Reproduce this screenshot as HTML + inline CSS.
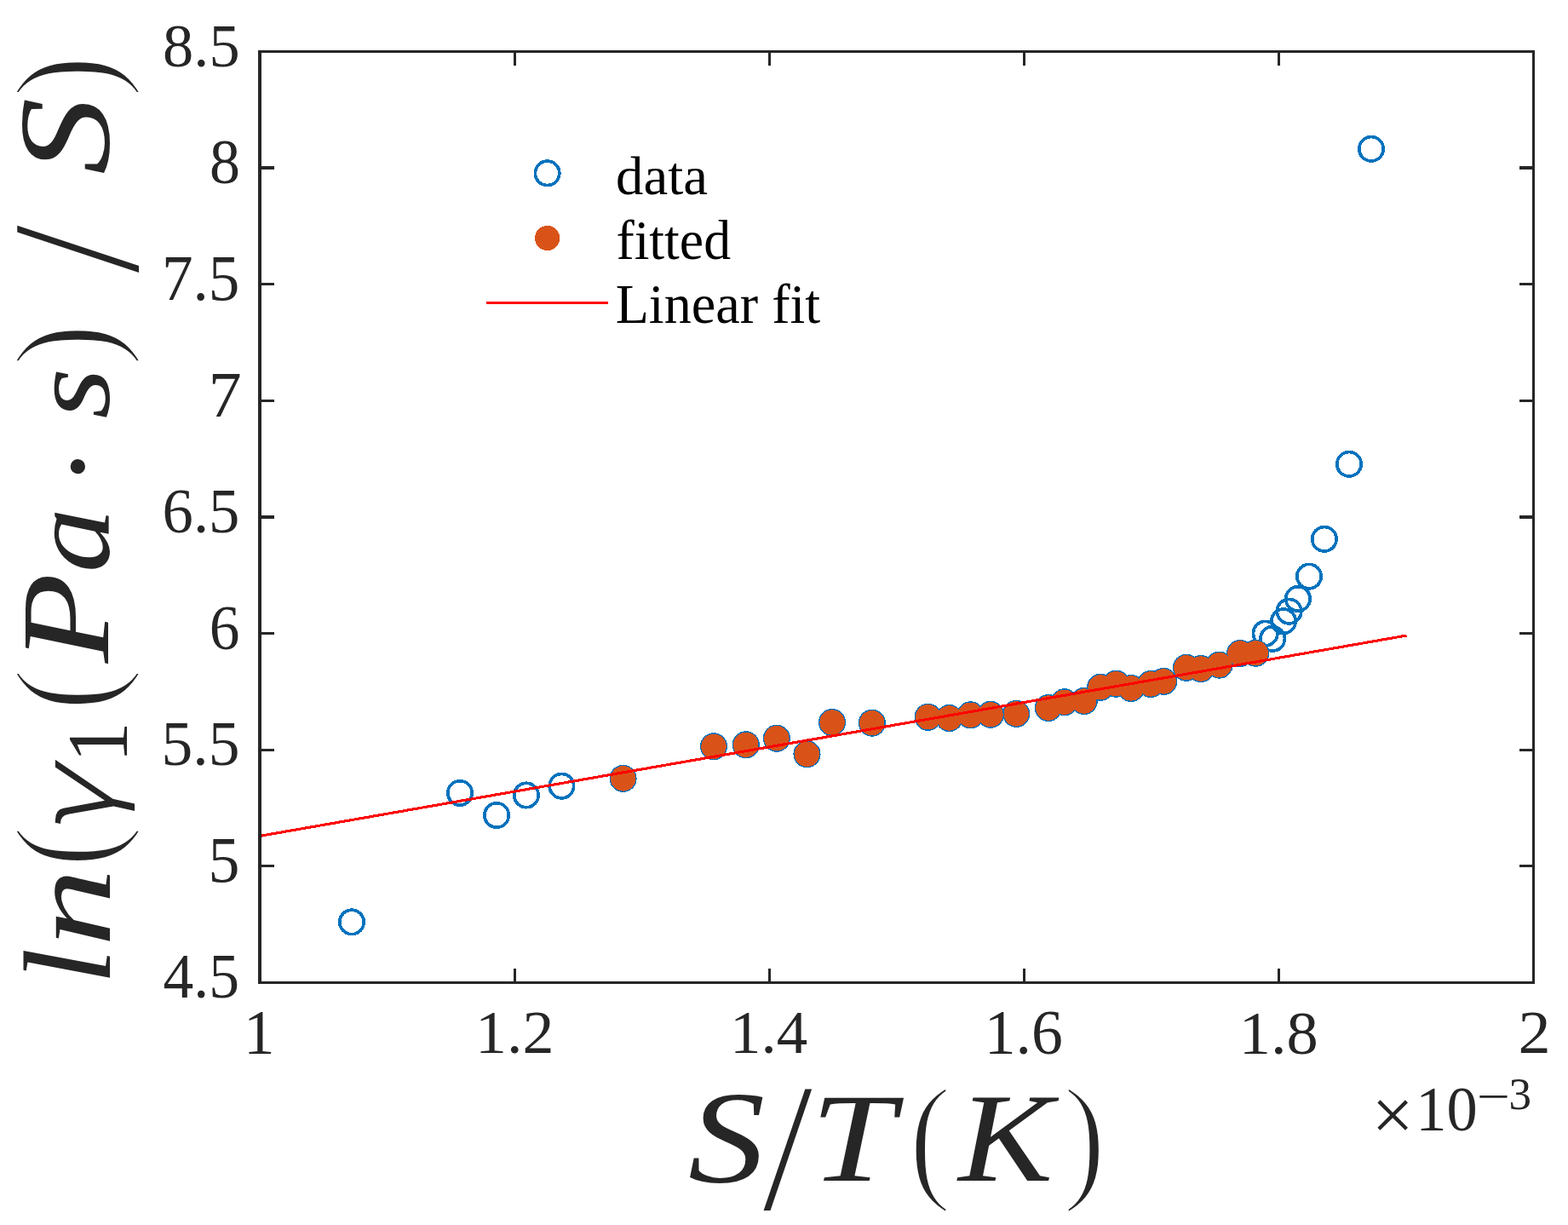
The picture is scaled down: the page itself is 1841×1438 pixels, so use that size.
<!DOCTYPE html>
<html lang="en"><head><meta charset="utf-8"><title>ln(γ1(Pa·s) / S) vs S/T(K)</title>
<style>
html,body{margin:0;padding:0;background:#fff}
#fig{position:relative;width:1841px;height:1438px;overflow:hidden;background:#fff;font-family:"Liberation Serif",serif;}
.t{position:absolute;left:0;top:0;margin:0;padding:0;pointer-events:none}
.t span{position:absolute;left:0;top:0;display:block;font-size:100px;line-height:1;white-space:pre;transform-origin:0 0;color:#262626}
.t i{font-style:italic}
</style></head><body>
<div id="fig">
<svg width="1841" height="1438" viewBox="0 0 1841 1438" style="position:absolute;left:0;top:0">
<rect x="0" y="0" width="1841" height="1438" fill="#fff"/>
<g fill="none" stroke="#0072BD" stroke-width="3.7" shape-rendering="crispEdges"><circle cx="413.0" cy="1082.4" r="14.2"/><circle cx="540.0" cy="930.9" r="14.2"/><circle cx="583.1" cy="957.0" r="14.2"/><circle cx="617.9" cy="933.5" r="14.2"/><circle cx="659.4" cy="922.7" r="14.2"/><circle cx="1485.7" cy="743.6" r="14.2"/><circle cx="1494.2" cy="749.8" r="14.2"/><circle cx="1507.0" cy="729.3" r="14.2"/><circle cx="1513.6" cy="717.7" r="14.2"/><circle cx="1523.9" cy="702.9" r="14.2"/><circle cx="1537.0" cy="676.6" r="14.2"/><circle cx="1554.9" cy="632.8" r="14.2"/><circle cx="1584.0" cy="544.8" r="14.2"/><circle cx="1610.0" cy="174.8" r="14.2"/><circle cx="731.6" cy="913.9" r="14.2"/><circle cx="838.0" cy="876.3" r="14.2"/><circle cx="875.8" cy="874.3" r="14.2"/><circle cx="911.9" cy="866.7" r="14.2"/><circle cx="947.5" cy="885.2" r="14.2"/><circle cx="977.1" cy="848.0" r="14.2"/><circle cx="1023.8" cy="848.7" r="14.2"/><circle cx="1089.6" cy="841.8" r="14.2"/><circle cx="1114.5" cy="843.0" r="14.2"/><circle cx="1139.5" cy="839.3" r="14.2"/><circle cx="1163.0" cy="838.8" r="14.2"/><circle cx="1193.2" cy="837.9" r="14.2"/><circle cx="1230.8" cy="831.0" r="14.2"/><circle cx="1249.7" cy="824.3" r="14.2"/><circle cx="1272.7" cy="823.0" r="14.2"/><circle cx="1292.1" cy="806.8" r="14.2"/><circle cx="1310.4" cy="802.7" r="14.2"/><circle cx="1328.0" cy="807.9" r="14.2"/><circle cx="1351.1" cy="802.9" r="14.2"/><circle cx="1366.2" cy="799.9" r="14.2"/><circle cx="1392.9" cy="783.8" r="14.2"/><circle cx="1410.1" cy="785.0" r="14.2"/><circle cx="1431.6" cy="780.6" r="14.2"/><circle cx="1456.0" cy="766.9" r="14.2"/><circle cx="1474.3" cy="766.7" r="14.2"/></g>
<g fill="#D95319" stroke="none" shape-rendering="crispEdges"><circle cx="731.6" cy="913.9" r="14.7"/><circle cx="838.0" cy="876.3" r="14.7"/><circle cx="875.8" cy="874.3" r="14.7"/><circle cx="911.9" cy="866.7" r="14.7"/><circle cx="947.5" cy="885.2" r="14.7"/><circle cx="977.1" cy="848.0" r="14.7"/><circle cx="1023.8" cy="848.7" r="14.7"/><circle cx="1089.6" cy="841.8" r="14.7"/><circle cx="1114.5" cy="843.0" r="14.7"/><circle cx="1139.5" cy="839.3" r="14.7"/><circle cx="1163.0" cy="838.8" r="14.7"/><circle cx="1193.2" cy="837.9" r="14.7"/><circle cx="1230.8" cy="831.0" r="14.7"/><circle cx="1249.7" cy="824.3" r="14.7"/><circle cx="1272.7" cy="823.0" r="14.7"/><circle cx="1292.1" cy="806.8" r="14.7"/><circle cx="1310.4" cy="802.7" r="14.7"/><circle cx="1328.0" cy="807.9" r="14.7"/><circle cx="1351.1" cy="802.9" r="14.7"/><circle cx="1366.2" cy="799.9" r="14.7"/><circle cx="1392.9" cy="783.8" r="14.7"/><circle cx="1410.1" cy="785.0" r="14.7"/><circle cx="1431.6" cy="780.6" r="14.7"/><circle cx="1456.0" cy="766.9" r="14.7"/><circle cx="1474.3" cy="766.7" r="14.7"/></g>
<line x1="304.5" y1="981.5" x2="1651.5" y2="746.0" stroke="#FF0000" stroke-width="3.1" stroke-linecap="butt" shape-rendering="crispEdges"/>
<g fill="#262626" shape-rendering="crispEdges">
<rect x="303" y="59" width="1499" height="3"/>
<rect x="303" y="1152" width="1499" height="3"/>
<rect x="303" y="59" width="4" height="1096"/>
<rect x="1799" y="59" width="3" height="1096"/>
<rect x="603" y="1137" width="3" height="15"/>
<rect x="603" y="62" width="3" height="15"/>
<rect x="902" y="1137" width="3" height="15"/>
<rect x="902" y="62" width="3" height="15"/>
<rect x="1201" y="1137" width="3" height="15"/>
<rect x="1201" y="62" width="3" height="15"/>
<rect x="1500" y="1137" width="3" height="15"/>
<rect x="1500" y="62" width="3" height="15"/>
<rect x="307" y="195" width="15" height="4"/>
<rect x="1784" y="195" width="15" height="4"/>
<rect x="307" y="332" width="15" height="3"/>
<rect x="1784" y="332" width="15" height="3"/>
<rect x="307" y="469" width="15" height="3"/>
<rect x="1784" y="469" width="15" height="3"/>
<rect x="307" y="605" width="15" height="4"/>
<rect x="1784" y="605" width="15" height="4"/>
<rect x="307" y="742" width="15" height="3"/>
<rect x="1784" y="742" width="15" height="3"/>
<rect x="307" y="879" width="15" height="3"/>
<rect x="1784" y="879" width="15" height="3"/>
<rect x="307" y="1015" width="15" height="3"/>
<rect x="1784" y="1015" width="15" height="3"/>
</g>
<circle cx="642.6" cy="203.3" r="14.2" fill="none" stroke="#0072BD" stroke-width="3.7" shape-rendering="crispEdges"/>
<circle cx="642.6" cy="279.5" r="14.6" fill="#D95319" shape-rendering="crispEdges"/>
<rect x="571" y="354" width="143" height="3" fill="#FF0000" shape-rendering="crispEdges"/>
</svg>
<div class="t" id="yt0"><span style="transform:matrix(0.7241,0,0,0.7265,191.08,17.51);">8.5</span></div>
<div class="t" id="yt1"><span style="transform:matrix(0.7200,0,0,0.7363,245.90,154.05);">8</span></div>
<div class="t" id="yt2"><span style="transform:matrix(0.7319,0,0,0.7642,189.94,288.33);">7.5</span></div>
<div class="t" id="yt3"><span style="transform:matrix(0.7778,0,0,0.7634,244.74,425.54);">7</span></div>
<div class="t" id="yt4"><span style="transform:matrix(0.7263,0,0,0.7380,190.61,563.54);">6.5</span></div>
<div class="t" id="yt5"><span style="transform:matrix(0.7135,0,0,0.7450,245.77,700.22);">6</span></div>
<div class="t" id="yt6"><span style="transform:matrix(0.7358,0,0,0.7463,189.47,835.84);">5.5</span></div>
<div class="t" id="yt7"><span style="transform:matrix(0.7379,0,0,0.7579,244.56,972.44);">5</span></div>
<div class="t" id="yt8"><span style="transform:matrix(0.7160,0,0,0.7316,191.47,1110.38);">4.5</span></div>
<div class="t" id="xt0"><span style="transform:matrix(0.7319,0,0,0.7303,286.00,1176.28);">1</span></div>
<div class="t" id="xt1"><span style="transform:matrix(0.7395,0,0,0.7114,557.93,1176.78);">1.2</span></div>
<div class="t" id="xt2"><span style="transform:matrix(0.7294,0,0,0.7200,857.12,1176.46);">1.4</span></div>
<div class="t" id="xt3"><span style="transform:matrix(0.7373,0,0,0.7336,1155.75,1176.41);">1.6</span></div>
<div class="t" id="xt4"><span style="transform:matrix(0.7440,0,0,0.7279,1454.79,1176.49);">1.8</span></div>
<div class="t" id="xt5"><span style="transform:matrix(0.7625,0,0,0.7230,1782.47,1176.39);">2</span></div>
<div class="t" id="exp"><span style="transform:matrix(0.8741,0,0,0.8741,1610.61,1265.01);">×</span><span style="transform:matrix(0.7246,0,0,0.7496,1662.26,1265.23);">10</span><span style="transform:matrix(0.6925,0,0,0.5400,1733.64,1260.39);">−</span><span style="transform:matrix(0.5309,0,0,0.5234,1771.38,1258.13);">3</span></div>
<div class="t" id="lg0"><span style="transform:matrix(0.6479,0,0,0.6440,723.03,174.31);color:#000;">data</span></div>
<div class="t" id="lg1"><span style="transform:matrix(0.6380,0,0,0.6448,723.39,250.14);color:#000;">fitted</span></div>
<div class="t" id="lg2"><span style="transform:matrix(0.6416,0,0,0.6448,722.68,325.84);color:#000;">Linear fit</span></div>
<div class="t" id="xlab"><span style="transform:matrix(1.8043,0,0,1.5435,807.94,1258.75);font-style:italic;">S</span><span style="transform:matrix(1.6250,0,-0.1702,2.1299,911.00,1242.49);">/</span><span style="transform:matrix(1.7764,0,0,1.4916,951.75,1262.00);font-style:italic;">T</span><span style="transform:matrix(1.4913,0,0,1.6475,1067.33,1252.95);-webkit-text-stroke:2.5px #fff;">(</span><span style="transform:matrix(1.6637,0,0,1.4916,1125.28,1262.00);font-style:italic;">K</span><span style="transform:matrix(1.5140,0,0,1.6475,1248.09,1252.95);-webkit-text-stroke:2.5px #fff;">)</span></div>
<div class="t" id="ylab"><span style="transform:matrix(0,-1.5654,1.4518,0,8.40,1156.02);font-style:italic;">l</span><span style="transform:matrix(0,-1.8414,1.3745,0,14.82,1111.34);font-style:italic;">n</span><span style="transform:matrix(0,-1.4739,1.6557,0,-6.08,1018.27);-webkit-text-stroke:2.5px #fff;">(</span><span style="transform:matrix(0,-1.4583,1.2897,0,24.64,980.49);font-style:italic;font-family:'DejaVu Sans',sans-serif;-webkit-text-stroke:3px #fff;">γ</span><span style="transform:matrix(0,-0.9617,1.0167,0,64.52,895.31);">1</span><span style="transform:matrix(0,-1.5217,1.6557,0,-6.08,834.65);-webkit-text-stroke:2.5px #fff;">(</span><span style="transform:matrix(0,-1.7305,1.4779,0,4.24,778.13);font-style:italic;">P</span><span style="transform:matrix(0,-1.5260,1.3458,0,15.85,672.28);font-style:italic;">a</span><span style="transform:matrix(0,-1.4638,1.4638,0,18.59,571.94);">·</span><span style="transform:matrix(0,-1.5391,1.3458,0,15.85,491.82);font-style:italic;">s</span><span style="transform:matrix(0,-1.5097,1.6557,0,-6.08,429.89);-webkit-text-stroke:2.5px #fff;">)</span><span style="transform:matrix(0,-1.6250,2.1358,0.1493,-16.51,307.25);">/</span><span style="transform:matrix(0,-1.8064,1.5346,0,1.10,205.06);font-style:italic;">S</span><span style="transform:matrix(0,-1.5011,1.6591,0,-6.33,114.85);-webkit-text-stroke:2.5px #fff;">)</span></div>
</div></body></html>
